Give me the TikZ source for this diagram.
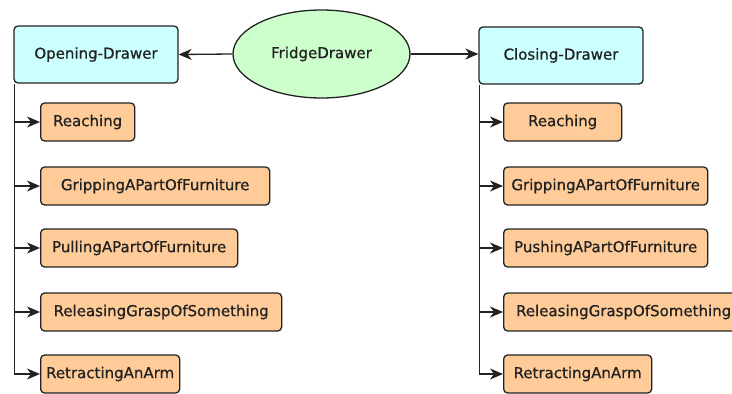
\documentclass[tikz,border=0pt]{standalone}
\usepackage{fontspec}
\setmainfont[FakeBold=0.8]{DejaVu Sans}
\usetikzlibrary{arrows.meta,shapes.geometric}
\definecolor{taskcyan}{HTML}{CCFFFF}
\definecolor{stepor}{HTML}{FFCC99}
\definecolor{rootgreen}{HTML}{CCFFCC}
\definecolor{edge}{HTML}{222222}
\tikzset{
  base/.style={draw=edge, line width=1.3pt, text=edge, inner sep=0pt,
    font=\fontsize{15}{18}\selectfont},
  taskbox/.style={base, rounded corners=4pt, fill=taskcyan, minimum width=164pt, minimum height=57pt},
  stepbox/.style={base, rounded corners=4pt, fill=stepor, minimum height=38pt, anchor=west},
  rootnode/.style={base, ellipse, fill=rootgreen, minimum width=177pt, minimum height=88pt},
  link/.style={draw=edge, line width=1.3pt, -{Stealth[length=13pt,width=11pt,inset=4pt]}},
}
\begin{document}
\begin{tikzpicture}[x=1pt,y=-1pt]
\useasboundingbox (0,0) rectangle (732,394);
\clip (0,0) rectangle (732,394);

\node[rootnode] (root) at (321.5,54) {FridgeDrawer};
\node[taskbox] (open) at (96,54.5) {Opening-Drawer};
\node[taskbox] (close) at (561,55.5) {Closing-Drawer};

\draw[link] (root.west) -- (open.east);
\draw[link] (root.east) -- (root.east -| close.west);

% steps of opening the drawer
\node[stepbox, minimum width=94pt]  (oa) at (40,122) {Reaching};
\node[stepbox, minimum width=229pt] (ob) at (40,186) {GrippingAPartOfFurniture};
\node[stepbox, minimum width=197pt] (oc) at (40,248) {PullingAPartOfFurniture};
\node[stepbox, minimum width=241pt] (od) at (40,312) {ReleasingGraspOfSomething};
\node[stepbox, minimum width=139pt] (oe) at (40,374) {RetractingAnArm};

% steps of closing the drawer
\node[stepbox, minimum width=118pt] (ca) at (503,122) {Reaching};
\node[stepbox, minimum width=204pt] (cb) at (503,186) {GrippingAPartOfFurniture};
\node[stepbox, minimum width=204pt] (cc) at (503,248) {PushingAPartOfFurniture};
\node[stepbox, minimum width=240pt] (cd) at (503,312) {ReleasingGraspOfSomething};
\node[stepbox, minimum width=148pt] (ce) at (503,374) {RetractingAnArm};

\coordinate (ot) at ([xshift=1pt]open.south west);
\coordinate (ct) at ([xshift=1pt]close.south west);
\draw[draw=edge, line width=1.3pt] (ot) -- (ot |- oe.west);
\draw[draw=edge, line width=1.3pt] (ct) -- (ct |- ce.west);
\foreach \s in {oa,ob,oc,od,oe}{
  \draw[link] (ot |- \s.west) -- (\s.west);
}
\foreach \s in {ca,cb,cc,cd,ce}{
  \draw[link] (ct |- \s.west) -- (\s.west);
}
\end{tikzpicture}
\end{document}
